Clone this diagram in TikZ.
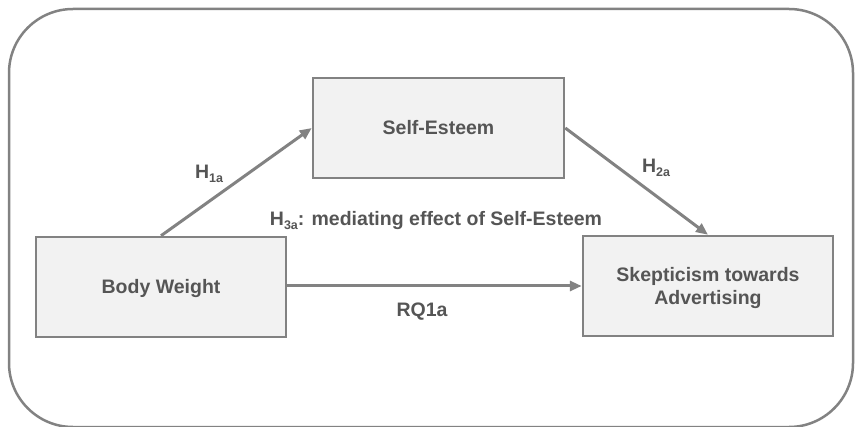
\documentclass[tikz,border=0pt]{standalone}
\usepackage{fontspec}
\setmainfont{Liberation Sans}
\usetikzlibrary{arrows.meta}
\definecolor{edgegray}{HTML}{828282}
\definecolor{boxfill}{HTML}{F2F2F2}
\definecolor{textgray}{HTML}{555555}
\newcommand{\hsub}[2]{#1\raisebox{-4pt}{\fontsize{12.5}{13}\selectfont #2}}
\tikzset{
  varbox/.style={draw=edgegray, line width=2.5pt, fill=boxfill, text=textgray,
    font=\fontsize{19.5}{23}\selectfont\bfseries, align=center, inner sep=0pt,
    text height=14pt, text depth=0pt},
  link/.style={draw=edgegray, line width=3pt, -{Triangle[length=12pt,width=10pt]}},
  lbl/.style={text=textgray, font=\fontsize{19.5}{22}\selectfont\bfseries, inner sep=0pt}
}
\begin{document}
\begin{tikzpicture}[x=1pt, y=-1pt]
  \useasboundingbox (0,0) rectangle (856,427);
  % outer frame
  \begin{scope}
    \clip (0,0) rectangle (856,427);
    \draw[edgegray, line width=2.5pt, rounded corners=64pt] (9,9) rectangle (853,427);
  \end{scope}
  % variables
  \node[varbox, minimum width=251pt, minimum height=100pt] (se) at (438.5,128) {Self-Esteem};
  \node[varbox, minimum width=250pt, minimum height=100pt] (bw) at (161,287) {Body Weight};
  \node[varbox, minimum width=250pt, minimum height=100pt, text height=37pt] (sk) at (708,286) {Skepticism towards\\Advertising};
  % paths
  \draw[link] (bw.north) -- (se.west);
  \draw[link] (se.east) -- (sk.north);
  \draw[link] (bw.east |- 0,286) coordinate (rqs) -- (sk.west |- rqs);
  % labels
  \node[lbl] (h1) at (209,174) {\hsub{H}{1a}};
  \node[lbl] (h2) at (656,168) {\hsub{H}{2a}};
  \node[lbl] (h3) at (436,221) {\hsub{H}{3a}: mediating effect of Self-Esteem};
  \node[lbl] (rq) at (422,312) {RQ1a};
\end{tikzpicture}
\end{document}
